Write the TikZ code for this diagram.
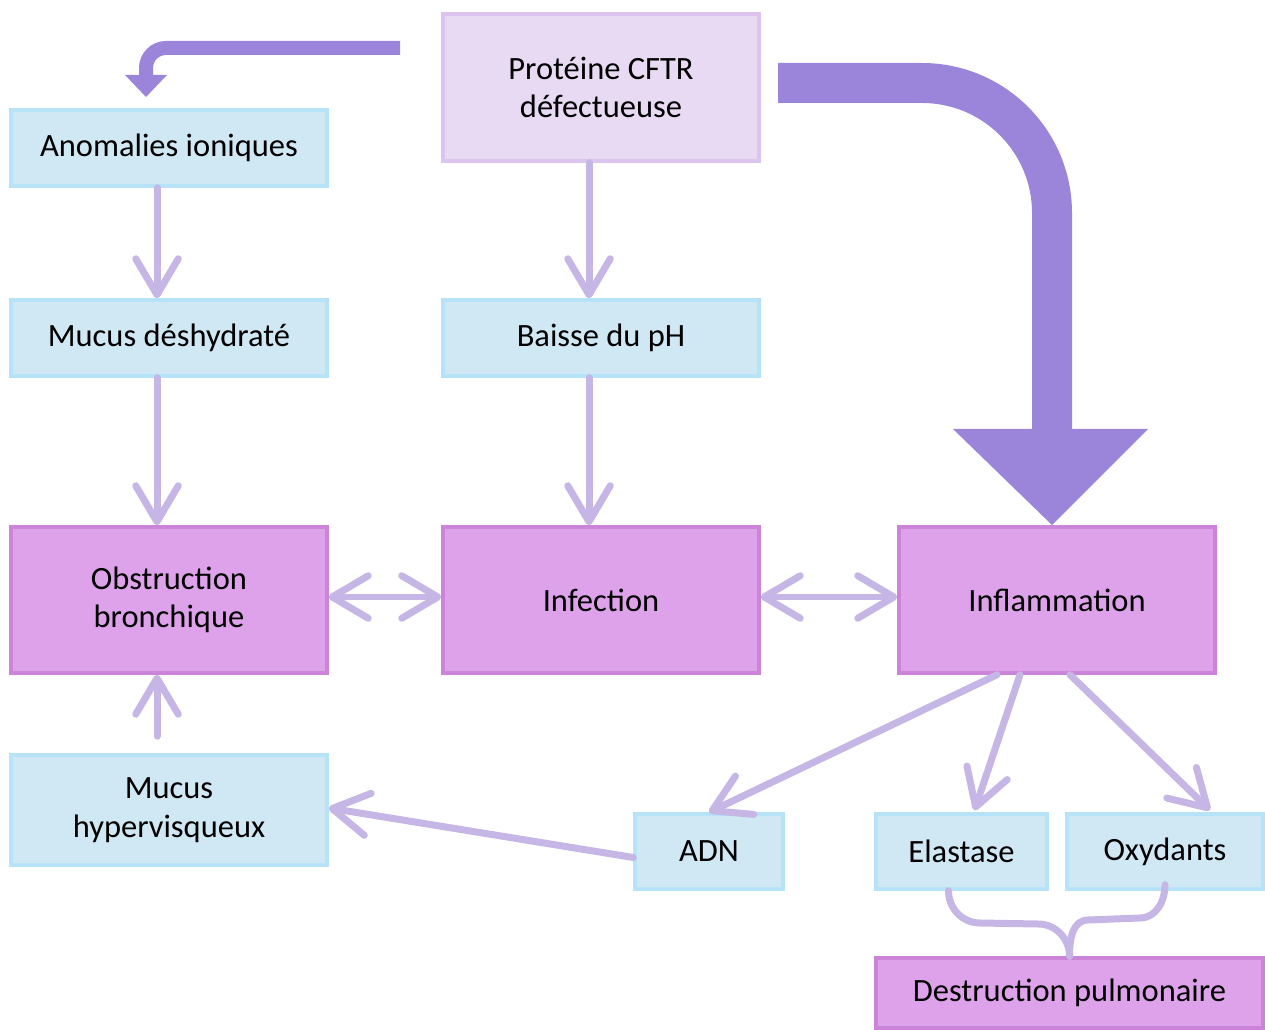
\documentclass[tikz,border=0pt]{standalone}
\usepackage{fontspec}
\setmainfont{Carlito}
\usepackage{xcolor}
\usetikzlibrary{arrows.meta, calc}

\definecolor{bluefill}{HTML}{CFE8F3}
\definecolor{blueline}{HTML}{B6E3F8}
\definecolor{pinkfill}{HTML}{DDA2EA}
\definecolor{pinkline}{HTML}{CB84D8}
\definecolor{lilafill}{HTML}{E8DAF3}
\definecolor{lilaline}{HTML}{DCC4EF}
\definecolor{lav}{HTML}{C6B6E6}
\definecolor{bigarrow}{HTML}{9B85DB}

\begin{document}
\begin{tikzpicture}[
  x=0.02cm, y=-0.02cm,
  every node/.style={font=\fontsize{18.5}{22}\selectfont, align=center, inner sep=0pt},
  bluebox/.style={rectangle, draw=blueline, fill=bluefill, line width=0.07cm, minimum width=6.32cm, minimum height=1.52cm},
  pinkbox/.style={rectangle, draw=pinkline, fill=pinkfill, line width=0.07cm, minimum width=6.32cm, minimum height=2.92cm},
  lilabox/.style={rectangle, draw=lilaline, fill=lilafill, line width=0.07cm, minimum width=6.32cm, minimum height=2.94cm},
  arrow/.style={-{Straight Barb[round, length=0.72cm, width=0.85cm]}, draw=lav, line width=0.14cm, line cap=round},
  twoway/.style={{Straight Barb[round, length=0.72cm, width=0.85cm]}-{Straight Barb[round, length=0.72cm, width=0.85cm]}, draw=lav, line width=0.14cm, line cap=round},
  brace/.style={draw=lav, line width=0.14cm, line cap=round}
]
  \useasboundingbox (0,0) rectangle (1265,1030);

  \node[lilabox] (cftr) at (601,87.5) {Protéine CFTR\\défectueuse};
  \node[bluebox] (anom) at (169,148) {Anomalies ioniques};
  \node[bluebox] (mdes) at (169,338) {Mucus déshydraté};
  \node[bluebox] (ph) at (601,338) {Baisse du pH};
  \node[pinkbox] (obst) at (169,600) {Obstruction\\bronchique};
  \node[pinkbox] (infec) at (601,600) {Infection};
  \node[pinkbox] (infl) at (1057,600) {Inflammation};
  \node[bluebox, minimum height=2.2cm] (mhyp) at (169,810) {Mucus\\hypervisqueux};
  \node[bluebox, minimum width=2.96cm, minimum height=1.5cm] (adn) at (709,851.5) {ADN};
  \node[bluebox, minimum width=3.42cm, minimum height=1.5cm] (elast) at (961.5,851.5) {Elastase};
  \node[bluebox, minimum width=3.92cm, minimum height=1.5cm] (oxy) at (1165,851.5) {Oxydants};
  \node[pinkbox, minimum width=7.74cm, minimum height=1.4cm] (destr) at (1069.5,993) {Destruction pulmonaire};

  % thick arrows
  \draw[bigarrow, line width=0.8cm, rounded corners=2.6cm] (778,83) -- (1052,83) -- (1052,432);
  \fill[bigarrow] (953,429) -- (1148,429) -- (1052,525) -- cycle;
  \draw[bigarrow, line width=0.28cm, rounded corners=0.4cm] (400,48) -- (146,48) -- (146,77);
  \fill[bigarrow] (125,75) -- (167,75) -- (146,97) -- cycle;

  \draw[arrow] ($(anom.south)+(-12,0)$) -- ($(mdes.north)+(-12,0)$);
  \draw[arrow] ($(mdes.south)+(-12,0)$) -- ($(obst.north)+(-12,0)$);
  \draw[arrow] ($(cftr.south)+(-12,0)$) -- ($(ph.north)+(-12,0)$);
  \draw[arrow] ($(ph.south)+(-12,0)$) -- ($(infec.north)+(-12,0)$);
  \draw[arrow] ($(mhyp.north)+(-12,-17)$) -- ($(obst.south)+(-12,0)$);

  \draw[twoway] ($(obst.east)+(0,-3)$) -- ($(infec.west)+(0,-3)$);
  \draw[twoway] ($(infec.east)+(0,-3)$) -- ($(infl.west)+(0,-3)$);

  \draw[arrow] ($(infl.south)+(-60,0)$) -- (adn.north);
  \draw[arrow] ($(infl.south)+(-37,0)$) -- ($(elast.north)+(13,-2)$);
  \draw[arrow] ($(infl.south)+(13,0)$) -- ($(oxy.north)+(45,-2)$);
  \draw[arrow] ($(adn.west)+(0,6)$) -- ($(mhyp.east)+(0,-2)$);

  % bracket
  \draw[brace] ($(elast.south)+(-13,0)$) to[out=-90, in=180] (980,923) -- (1038,924) to[out=0, in=90] (destr.north);
  \draw[brace] ($(oxy.south)+(0,-6)$) to[out=-90, in=0] (1140,918) -- (1088,920) to[out=180, in=90] (destr.north);
\end{tikzpicture}
\end{document}
